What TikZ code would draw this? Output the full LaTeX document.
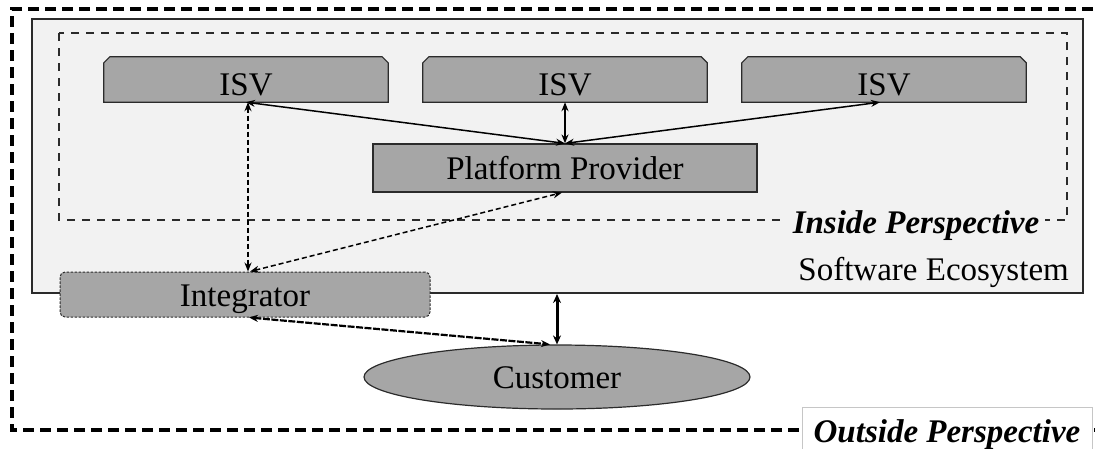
\documentclass[tikz,border=0pt]{standalone}
\usepackage{fontspec}
\setmainfont{Liberation Serif}
\usetikzlibrary{arrows.meta,shapes.geometric,calc}
\definecolor{boxgray}{HTML}{A6A6A6}
\definecolor{ecofill}{HTML}{F2F2F2}
\definecolor{edgecol}{HTML}{2B2B2B}
\pgfdeclarelayer{backdrop}
\pgfdeclarelayer{shapelayer}
\pgfsetlayers{backdrop,shapelayer,main}
\begin{document}
\begin{tikzpicture}[x=1pt,y=-1pt,
  txt/.style={font=\fontsize{33}{40}\selectfont, text=black, inner sep=0pt},
  isvbox/.style={txt, minimum width=284pt, minimum height=45pt, text height=32pt, text depth=0pt},
  isvshape/.style={fill=boxgray, draw=edgecol, line width=1.2pt},
  ppbox/.style={txt, draw=edgecol, line width=1.2pt, fill=boxgray, minimum width=384pt, minimum height=48pt, text height=22pt, text depth=0pt},
  intbox/.style={txt, draw=edgecol, line width=1pt, dash pattern=on 2.5pt off 1.5pt, fill=boxgray, rounded corners=5pt, minimum width=370pt, minimum height=45pt, text height=24pt, text depth=0pt},
  custshape/.style={txt, ellipse, draw=edgecol, line width=1.2pt, fill=boxgray, minimum width=386pt, minimum height=64pt, text height=22pt, text depth=0pt},
  ecobox/.style={draw=edgecol, line width=2pt, fill=ecofill, minimum width=1051pt, minimum height=274pt, inner sep=0pt},
  outerdash/.style={draw=black, line width=3.5pt, dash pattern=on 11pt off 6pt},
  innerdash/.style={draw=edgecol, line width=1.6pt, dash pattern=on 8pt off 7pt},
  perslabel/.style={txt, font=\fontsize{33}{40}\selectfont\bfseries\itshape, text height=22pt, text depth=0pt},
  conn/.style={line width=1.5pt, {Stealth[length=9pt,width=7pt]}-{Stealth[length=9pt,width=7pt]}},
  dconn/.style={conn, dash pattern=on 5pt off 3pt},
  thickconn/.style={line width=3pt, {Stealth[length=9pt,width=8pt]}-{Stealth[length=9pt,width=8pt]}},
  custconn/.style={line width=2.2pt, dash pattern=on 7pt off 1.5pt, {Stealth[length=9pt,width=7pt]}-{Stealth[length=9pt,width=7pt]}},
]
\useasboundingbox (0,0) rectangle (1095,448);

\begin{pgfonlayer}{backdrop}
  \draw[outerdash] (1110,9) -- (12,9) -- (12,430) -- (1110,430);
  \node[ecobox] (eco) at (557.5,156) {};
  \draw[innerdash] (59,33) rectangle (1067,220);
\end{pgfonlayer}

\node[isvbox] (isv1) at (246,79.5) {ISV};
\node[isvbox] (isv2) at (565,79.5) {ISV};
\node[isvbox] (isv3) at (884,79.5) {ISV};

\begin{pgfonlayer}{shapelayer}
  \foreach \n in {isv1,isv2,isv3}{
    \path[isvshape] (\n.south west) -- ($(\n.north west)+(0,6)$) -- ($(\n.north west)+(6,0)$)
      -- ($(\n.north east)+(-6,0)$) -- ($(\n.north east)+(0,6)$) -- (\n.south east) -- cycle;
  }
\end{pgfonlayer}

\node[ppbox] (pp) at (565,168) {Platform Provider};
\node[intbox] (integ) at (245,294.5) {Integrator};
\node[custshape] (cust) at (557,377) {Customer};

\node[perslabel, fill=ecofill, inner xsep=6pt, inner ysep=2pt] (inside) at (916,222) {Inside Perspective};
\node[txt, anchor=east, text height=22pt, text depth=0pt] (ecolabel) at (1069,269) {Software Ecosystem};
\node[perslabel, draw=gray!45, line width=1pt, fill=white, minimum width=290pt, minimum height=44pt, text height=26pt] (outside) at (947,429) {Outside Perspective};

% connectors
\draw[conn] (pp.north) -- (isv1.south);
\draw[conn] (pp.north) -- ($(isv3.south)+(-4,0)$);
\draw[conn] (isv2.south) -- (pp.north);
\draw[dconn] ($(isv1.south)+(2,0)$) -- ($(integ.north)+(3,0)$);
\draw[dconn] ($(integ.north)+(5,0)$) -- ($(pp.south)+(-3,0)$);
\draw[thickconn] (cust.north |- eco.south) -- (cust.north);
\draw[custconn] ($(integ.south)+(4,0)$) -- ($(cust.north)+(-7,0)$);
\end{tikzpicture}
\end{document}
